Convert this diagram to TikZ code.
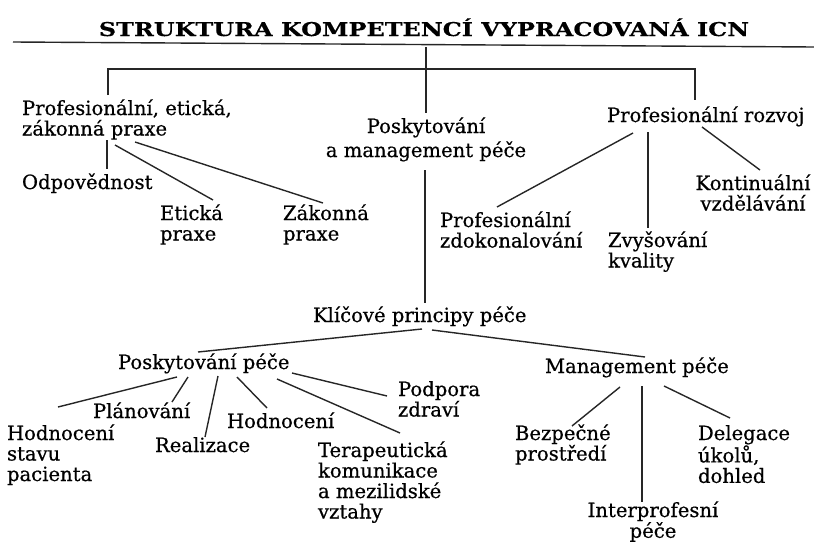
\documentclass[tikz,border=0pt]{standalone}
\usepackage{fontspec}
\setmainfont{DejaVu Serif}
\newfontfamily\bodyfont{DejaVu Serif}[FakeBold=0.6]
\newfontfamily\titlefont{DejaVu Serif Bold}[FakeBold=0.4]
\newcommand{\fs}{\rule{0pt}{16pt}}
\tikzset{
  lbl/.style={inner sep=0pt, outer sep=0pt, align=left, anchor=north west,
    font=\bodyfont\fontsize{19.6}{20.5}\selectfont},
  clbl/.style={lbl, align=center, anchor=north},
  conn/.style={line width=1.4pt, draw=black!85},
}
\begin{document}
\begin{tikzpicture}[x=1pt, y=-1pt]
\useasboundingbox (0,0) rectangle (814,541);
% title
\node[inner sep=0pt, anchor=base, font=\titlefont\fontsize{19}{20}\selectfont] (title) at (424,36)
  {\scalebox{1.26}[1]{STRUKTURA KOMPETENCÍ VYPRACOVANÁ ICN}};
\coordinate (rl) at (13,42);
\coordinate (rr) at (814,47);
\coordinate (top) at (426,47);
\coordinate (bl) at (108,69);
\coordinate (br) at (695,69);

% level 1
\node[lbl] (pep) at (22,99) {\fs Profesionální, etická,\\zákonná praxe};
\node[clbl, font=\bodyfont\fontsize{19.6}{24}\selectfont] (pmp) at (426,117) {\fs Poskytování\\a management péče};
\node[lbl] (pr) at (607,106) {\fs Profesionální rozvoj};

% level 2
\node[lbl] (odp) at (22,173) {\fs Odpovědnost};
\node[lbl] (eti) at (160,204) {\fs Etická\\praxe};
\node[lbl] (zak) at (283,204) {\fs Zákonná\\praxe};
\node[lbl] (pz) at (440,211) {\fs Profesionální\\zdokonalování};
\node[lbl] (zk) at (608,231) {\fs Zvyšování\\kvality};
\node[clbl] (kv) at (753,174) {\fs Kontinuální\\vzdělávání};
\node[lbl] (kpp) at (313,306) {\fs Klíčové principy péče};

% level 3
\node[lbl] (pp) at (118,353) {\fs Poskytování péče};
\node[lbl] (mp) at (545,357) {\fs Management péče};

% level 4
\node[lbl] (hsp) at (7,424) {\fs Hodnocení\\stavu\\pacienta};
\node[lbl] (pla) at (93,402) {\fs Plánování};
\node[lbl] (rea) at (155,436) {\fs Realizace};
\node[lbl] (hod) at (227,412) {\fs Hodnocení};
\node[lbl] (ter) at (318,441) {\fs Terapeutická\\komunikace\\a mezilidské\\vztahy};
\node[lbl] (pod) at (398,380) {\fs Podpora\\zdraví};
\node[lbl] (bez) at (515,424) {\fs Bezpečné\\prostředí};
\node[lbl] (del) at (698,424) {\fs Delegace\\úkolů,\\dohled};
\node[clbl, font=\bodyfont\fontsize{19.6}{18.5}\selectfont] (int) at (653,501) {\fs Interprofesní\\péče};

% connectors
\draw[conn] (rl) -- (rr);
\draw[conn] (top) -- ([shift={(0,-4)}]pmp.north);
\draw[conn] ([shift={(86,-4)}]pep.north west) -- (bl) -- (br) -- ([shift={(88,-6)}]pr.north west);

\draw[conn] ([shift={(85,41)}]pep.north west) -- ([shift={(85,-4)}]odp.north west);
\draw[conn] ([shift={(93,46)}]pep.north west) -- ([shift={(53,-4)}]eti.north west);
\draw[conn] ([shift={(113,43)}]pep.north west) -- ([shift={(40,-1)}]zak.north west);

\draw[conn] ([shift={(26,27)}]pr.north west) -- ([shift={(57,-4)}]pz.north west);
\draw[conn] ([shift={(41,26)}]pr.north west) -- ([shift={(40,-3)}]zk.north west);
\draw[conn] ([shift={(95,21)}]pr.north west) -- ([shift={(7,-4)}]kv.north);

\draw[conn] ([shift={(-1,53)}]pmp.north) -- ([shift={(112,-3)}]kpp.north west);

\draw[conn] ([shift={(109,23)}]kpp.north west) -- ([shift={(80,-1)}]pp.north west);
\draw[conn] ([shift={(119,24)}]kpp.north west) -- ([shift={(100,0)}]mp.north west);

\draw[conn] ([shift={(59,24)}]pp.north west) -- ([shift={(51,-17)}]hsp.north west);
\draw[conn] ([shift={(70,24)}]pp.north west) -- ([shift={(79,0)}]pla.north west);
\draw[conn] ([shift={(100,23)}]pp.north west) -- ([shift={(50,1)}]rea.north west);
\draw[conn] ([shift={(119,24)}]pp.north west) -- ([shift={(40,-4)}]hod.north west);
\draw[conn] ([shift={(159,26)}]pp.north west) -- ([shift={(82,-8)}]ter.north west);
\draw[conn] ([shift={(174,20)}]pp.north west) -- ([shift={(-11,16)}]pod.north west);

\draw[conn] ([shift={(75,30)}]mp.north west) -- ([shift={(57,2)}]bez.north west);
\draw[conn] ([shift={(97,29)}]mp.north west) -- ([shift={(-11,1)}]int.north);
\draw[conn] ([shift={(119,29)}]mp.north west) -- ([shift={(32,-6)}]del.north west);
\end{tikzpicture}
\end{document}
